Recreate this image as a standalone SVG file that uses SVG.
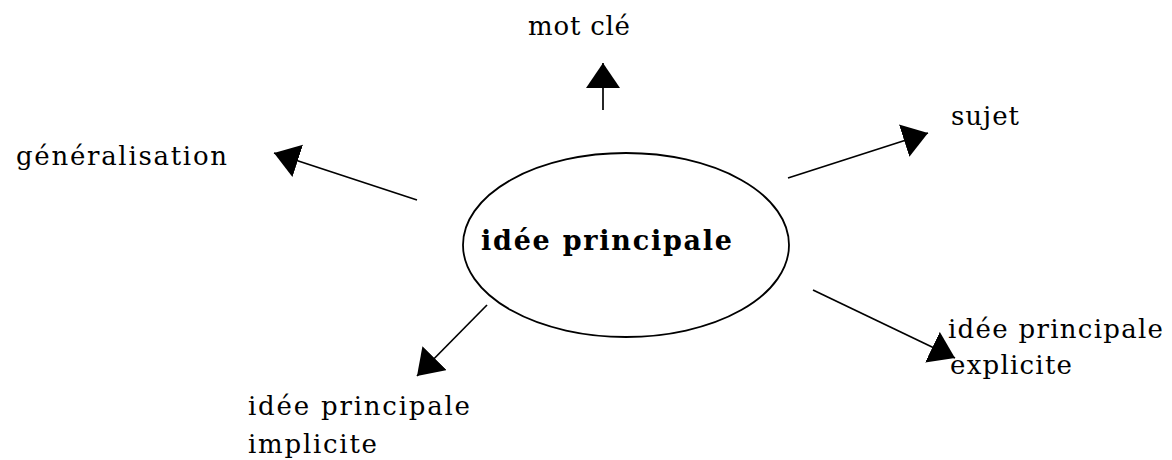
<svg xmlns="http://www.w3.org/2000/svg" width="1172" height="460" viewBox="0 0 1172 460">
<style>
.lbl{font-family:"DejaVu Serif","Liberation Serif",serif;font-size:26px;fill:#000}
.main{font-family:"DejaVu Serif","Liberation Serif",serif;font-size:27px;font-weight:bold;fill:#000}
.conn{stroke:#000;stroke-width:1.7;fill:none}
</style>
<defs>
<marker id="ah" markerUnits="userSpaceOnUse" markerWidth="26" markerHeight="34" refX="25" refY="17" orient="auto">
<path d="M0,0 L25,17 L0,34 Z" fill="#000"/>
</marker>
</defs>
<rect width="1172" height="460" fill="#fff"/>
<g id="center">
<ellipse cx="626" cy="245" rx="163" ry="92" fill="none" stroke="#000" stroke-width="1.8"/>
<text class="main" x="481" y="250" textLength="251" lengthAdjust="spacing">idée principale</text>
</g>
<g id="motcle"><text class="lbl" x="528" y="35" textLength="102" lengthAdjust="spacing">mot clé</text></g>
<g id="generalisation"><text class="lbl" x="16" y="165" textLength="211" lengthAdjust="spacing">généralisation</text></g>
<g id="sujet"><text class="lbl" x="951" y="125" textLength="68" lengthAdjust="spacing">sujet</text></g>
<g id="explicite">
<text class="lbl" x="948" y="338" textLength="215" lengthAdjust="spacing">idée principale</text>
<text class="lbl" x="950" y="374" textLength="122" lengthAdjust="spacing">explicite</text>
</g>
<g id="implicite">
<text class="lbl" x="248" y="415" textLength="222" lengthAdjust="spacing">idée principale</text>
<text class="lbl" x="248" y="453" textLength="129" lengthAdjust="spacing">implicite</text>
</g>
<g id="connectors">
<line class="conn" x1="603" y1="110" x2="603" y2="63" marker-end="url(#ah)"/>
<line class="conn" x1="417" y1="200" x2="274" y2="153" marker-end="url(#ah)"/>
<line class="conn" x1="788" y1="178" x2="928" y2="133" marker-end="url(#ah)"/>
<line class="conn" x1="813" y1="290" x2="955" y2="358" marker-end="url(#ah)"/>
<line class="conn" x1="487" y1="305" x2="417" y2="376" marker-end="url(#ah)"/>
</g>
</svg>
